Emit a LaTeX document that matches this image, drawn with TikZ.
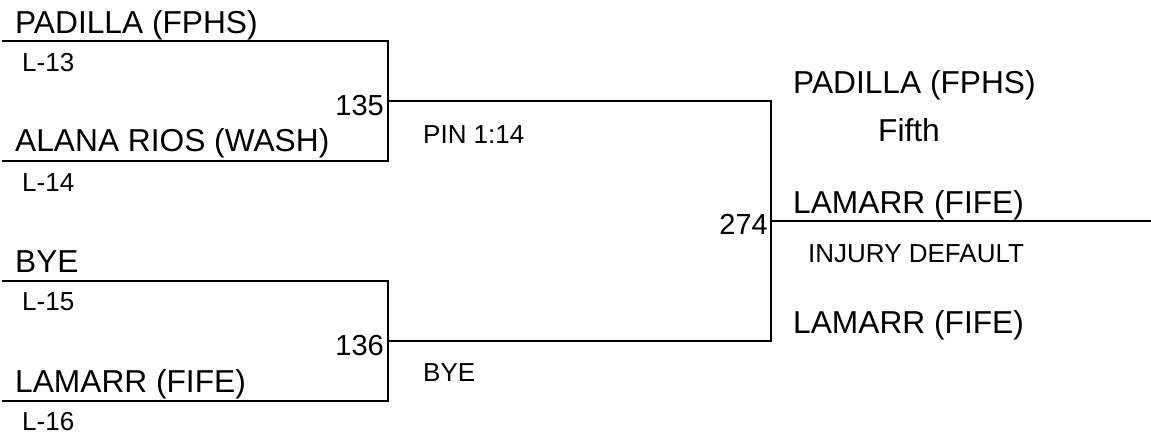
\documentclass[tikz,border=0pt]{standalone}
\usepackage{fontspec}
\setmainfont{Liberation Sans}
\begin{document}
\begin{tikzpicture}[x=1pt,y=-1pt,
  line/.style={line width=2pt,line cap=rect},
  big/.style={inner sep=0pt,anchor=base west,font=\fontsize{31.7pt}{36pt}\selectfont},
  small/.style={inner sep=0pt,anchor=base west,font=\fontsize{26pt}{30pt}\selectfont},
  num/.style={inner sep=0pt,anchor=base east,font=\fontsize{29pt}{33pt}\selectfont}]
\useasboundingbox (0,0) rectangle (1151,437);
% coordinates of bracket lines
\coordinate (s1) at (3,41);
\coordinate (s2) at (3,161);
\coordinate (s3) at (3,281);
\coordinate (s4) at (3,401);
\coordinate (b1t) at (388,41);
\coordinate (b1b) at (388,161);
\coordinate (b1m) at (388,101);
\coordinate (b2t) at (388,281);
\coordinate (b2b) at (388,401);
\coordinate (b2m) at (388,341);
\coordinate (ct) at (771,101);
\coordinate (cb) at (771,341);
\coordinate (cm) at (771,221);
\coordinate (fin) at (1151,221);
% lines
\draw[line] (s1) -- (b1t) -- (b1b) -- (s2);
\draw[line] (s3) -- (b2t) -- (b2b) -- (s4);
\draw[line] (b1m) -- (ct) -- (cb) -- (b2m);
\draw[line] (cm) -- (fin);
% left texts
\node[big] (n1) at (15,33) {PADILLA (FPHS)};
\node[small] (l13) at (22,71) {L-13};
\node[big] (n2) at (15,151) {ALANA RIOS (WASH)};
\node[small] (l14) at (22,191) {L-14};
\node[big] (n3) at (15,272) {BYE};
\node[small] (l15) at (22,310) {L-15};
\node[big] (n4) at (15,392) {LAMARR (FIFE)};
\node[small] (l16) at (22,430) {L-16};
% bout numbers
\node[num] (m135) at (384,115) {135};
\node[num] (m136) at (384,355) {136};
\node[num] (m274) at (768,234) {274};
% results
\node[small] (r1) at (423,143) {PIN 1:14};
\node[small] (r2) at (423,381) {BYE};
% right texts
\node[big] (w1) at (793,93) {PADILLA (FPHS)};
\node[big] (pl) at (878,141) {Fifth};
\node[big] (w2) at (793,213) {LAMARR (FIFE)};
\node[small] (r3) at (808,262) {INJURY DEFAULT};
\node[big] (w3) at (793,333) {LAMARR (FIFE)};
\end{tikzpicture}
\end{document}
